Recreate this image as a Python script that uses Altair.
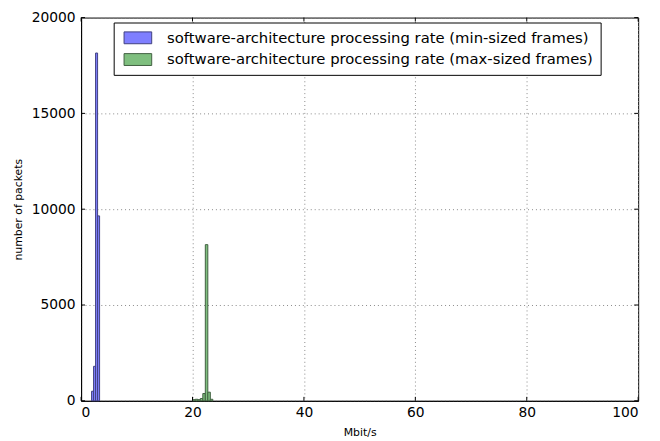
import altair as alt
import pandas as pd

# Histogram data (bin start, bin end, count)
series_names = [
    "software-architecture processing rate (min-sized frames)",
    "software-architecture processing rate (max-sized frames)",
]

blue_bin_start = [1.88, 2.24, 2.60, 2.96]
blue_bin_end = [2.24, 2.60, 2.96, 3.32]
blue_counts = [500, 1800, 18150, 9650]

green_bin_start = [20.05, 20.50, 20.95, 21.40, 21.85, 22.30, 22.75, 23.20]
green_bin_end = [20.50, 20.95, 21.40, 21.85, 22.30, 22.75, 23.20, 23.65]
green_counts = [60, 80, 60, 120, 380, 8150, 450, 80]

x_ticks = [0, 20, 40, 60, 80, 100]
y_ticks = [0, 5000, 10000, 15000, 20000]

rows = []
for s, e, c in zip(blue_bin_start, blue_bin_end, blue_counts):
    rows.append({"start": s, "end": e, "count": c, "series": series_names[0]})
for s, e, c in zip(green_bin_start, green_bin_end, green_counts):
    rows.append({"start": s, "end": e, "count": c, "series": series_names[1]})
df = pd.DataFrame(rows)

xt = pd.DataFrame({"v": x_ticks})
yt = pd.DataFrame({"v": y_ticks})

W, H = 564, 388
font = "DejaVu Sans"

x_scale = alt.Scale(domain=[0, 100], nice=False)
y_scale = alt.Scale(domain=[0, 20000], nice=False)

bars = (
    alt.Chart(df)
    .mark_bar(strokeWidth=1, fillOpacity=1)
    .encode(
        x=alt.X(
            "start:Q",
            scale=x_scale,
            axis=alt.Axis(
                values=x_ticks,
                format="d",
                title="Mbit/s",
                grid=True,
                gridDash=[1, 3],
                gridColor="#888888",
                ticks=False,
                labelFontSize=14,
                labelPadding=5,
                titleFontSize=11,
                titleFontWeight="normal",
                titlePadding=7,
                domainColor="black",
                labelColor="black",
                titleColor="black",
            ),
        ),
        x2="end:Q",
        y=alt.Y(
            "count:Q",
            scale=y_scale,
            axis=alt.Axis(
                values=y_ticks,
                format="d",
                title="number of packets",
                grid=True,
                gridDash=[1, 3],
                gridColor="#888888",
                ticks=False,
                labelFontSize=14,
                labelPadding=6,
                titleFontSize=11,
                titleFontWeight="normal",
                titlePadding=8,
                domainColor="black",
                labelColor="black",
                titleColor="black",
            ),
        ),
        y2=alt.datum(0),
        fill=alt.Fill(
            "series:N",
            sort=series_names,
            scale=alt.Scale(domain=series_names, range=["#7f7fff", "#7fbf7f"]),
            legend=alt.Legend(
                title=None,
                orient="none",
                legendX=33,
                legendY=5,
                strokeColor="black",
                fillColor="white",
                padding=7,
                labelFontSize=15,
                labelColor="black",
                labelLimit=0,
                labelOffset=30,
                rowPadding=5,
                symbolType="M-0.625,-0.75L2.875,-0.75L2.875,0.75L-0.625,0.75Z",
                symbolSize=256,
                symbolStrokeColor="#444444",
                symbolStrokeWidth=1,
                symbolOpacity=1,
            ),
        ),
        stroke=alt.Stroke(
            "series:N",
            sort=series_names,
            scale=alt.Scale(domain=series_names, range=["#40407f", "#406040"]),
            legend=None,
        ),
    )
)

tick_len = 4
bottom_ticks = alt.Chart(xt).mark_rule(color="black").encode(
    x=alt.X("v:Q", scale=x_scale), y=alt.value(H), y2=alt.value(H - tick_len)
)
top_ticks = alt.Chart(xt).mark_rule(color="black").encode(
    x=alt.X("v:Q", scale=x_scale), y=alt.value(0), y2=alt.value(tick_len)
)
left_ticks = alt.Chart(yt).mark_rule(color="black").encode(
    y=alt.Y("v:Q", scale=y_scale), x=alt.value(0), x2=alt.value(tick_len)
)
right_ticks = alt.Chart(yt).mark_rule(color="black").encode(
    y=alt.Y("v:Q", scale=y_scale), x=alt.value(W), x2=alt.value(W - tick_len)
)

chart = (
    alt.layer(bars, bottom_ticks, top_ticks, left_ticks, right_ticks)
    .properties(
        width=W,
        height=H,
        autosize=alt.AutoSizeParams(type="none"),
        padding={"left": 74, "top": 7, "right": 14, "bottom": 38},
    )
    .configure(font=font)
    .configure_view(stroke="black", strokeWidth=1)
)

chart.save("out.html", embed_options={"renderer": "svg", "actions": False})
